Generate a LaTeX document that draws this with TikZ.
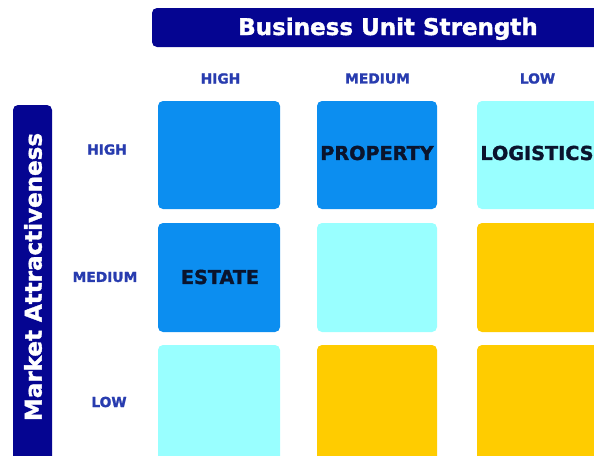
\documentclass[tikz,border=0pt]{standalone}
\usepackage{fontspec}
\setmainfont{DejaVu Sans}
\newfontfamily\heavyfont{DejaVu Sans Bold}[FakeBold=1.6]
\begin{document}
\definecolor{navybar}{RGB}{5,5,145}
\definecolor{strongblue}{RGB}{12,142,240}
\definecolor{paleaqua}{RGB}{153,255,255}
\definecolor{goldcell}{RGB}{255,204,0}
\definecolor{labelblue}{RGB}{40,60,175}
\definecolor{celltext}{RGB}{10,20,45}
\begin{tikzpicture}[x=1pt,y=-1pt,
  bar/.style={fill=navybar,rounded corners=5pt},
  cell/.style={rounded corners=5pt},
  axislabel/.style={text=labelblue,font=\heavyfont\fontsize{13.8}{14}\selectfont,inner sep=0pt},
  celllabel/.style={text=celltext,font=\heavyfont\fontsize{19.2}{19}\selectfont,inner sep=0pt},
  bartitle/.style={text=white,font=\heavyfont\fontsize{23}{23}\selectfont,inner sep=0pt}]
\useasboundingbox (0,0) rectangle (594,455);
% axis title bars
\fill[bar] (152,8) rectangle (610,47);
\node[bartitle,anchor=base] (xtitle) at (388,35) {Business Unit Strength};
\fill[bar] (13,105) rectangle (52,475);
\node[bartitle,rotate=90] (ytitle) at (33,277) {Market Attractiveness};
% column headings
\node[axislabel] (colhigh) at (220.5,78.5) {HIGH};
\node[axislabel] (colmed) at (377.5,78.5) {MEDIUM};
\node[axislabel] (collow) at (537.5,78.5) {LOW};
% row headings
\node[axislabel] (rowhigh) at (107,149.5) {HIGH};
\node[axislabel] (rowmed) at (105,277) {MEDIUM};
\node[axislabel] (rowlow) at (109,402) {LOW};
% grid cells
\fill[cell,strongblue] (158,101) rectangle (280,209);
\fill[cell,strongblue] (317,101) rectangle (437,209);
\fill[cell,paleaqua]   (477,101) rectangle (610,209);
\fill[cell,strongblue] (158,223) rectangle (280,332);
\fill[cell,paleaqua]   (317,223) rectangle (437,332);
\fill[cell,goldcell]   (477,223) rectangle (610,332);
\fill[cell,paleaqua]   (158,345) rectangle (280,470);
\fill[cell,goldcell]   (317,345) rectangle (437,470);
\fill[cell,goldcell]   (477,345) rectangle (610,470);
% cell names
\node[celllabel] (property) at (377,153) {PROPERTY};
\node[celllabel] (logistics) at (537,153) {LOGISTICS};
\node[celllabel] (estate) at (220,277) {ESTATE};
\end{tikzpicture}
\end{document}
